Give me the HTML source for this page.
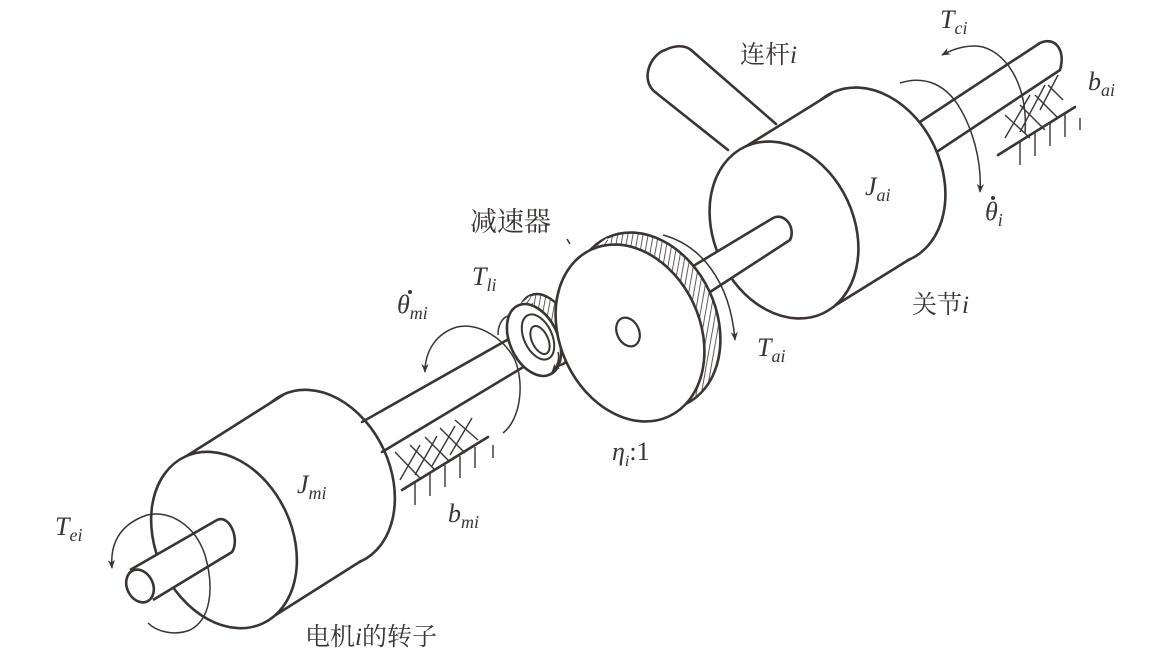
<!DOCTYPE html>
<html><head><meta charset="utf-8"><style>
html,body{margin:0;padding:0;background:#fff}
svg{display:block}
.s{fill:none;stroke:#3a3433;stroke-width:2.6;stroke-linecap:round;stroke-linejoin:round}
.w{fill:#fff;stroke:#3a3433;stroke-width:2.6}
.t{stroke:#3a3433;stroke-width:1.4;fill:none}
.a{fill:none;stroke:#3a3433;stroke-width:1.5}
.lab{font-family:"Liberation Serif",serif;font-style:italic;fill:#3a3433}
.cn{font-family:"Liberation Serif","Noto Serif CJK SC",serif;fill:#3a3433}
</style></head><body>
<svg width="1151" height="672" viewBox="0 0 1151 672" xmlns="http://www.w3.org/2000/svg">
<defs>
<pattern id="h" width="5" height="5" patternUnits="userSpaceOnUse" patternTransform="rotate(35)">
<rect width="5" height="5" fill="#fff"/><line x1="0" y1="0" x2="0" y2="5" stroke="#3a3433" stroke-width="1.6"/>
</pattern>
<marker id="ar" viewBox="0 0 10 10" refX="9" refY="5" markerWidth="9" markerHeight="9" orient="auto-start-reverse" markerUnits="userSpaceOnUse">
<path d="M0,1 L10,5 L0,9 L3,5 Z" fill="#3a3433"/>
</marker>
</defs>

<!-- link -->
<path d="M655,92 L728,150 M691,50 L776,124" class="s"/>
<path d="M655,92 C640,80 650,55 665,50 C675,45 685,45 691,50" class="s"/>

<!-- right shaft -->
<path d="M900,135 L1040,43 C1055,36 1066,50 1060,70 L920,163" class="w" style="stroke-linejoin:round"/>

<!-- joint cylinder -->
<ellipse cx="871" cy="176" rx="70" ry="92" transform="rotate(-25 871 176)" class="w"/>
<polygon points="745,147 832,93 910,259 823,313" fill="#fff"/>
<line x1="745" y1="147" x2="832" y2="93" class="s"/>
<line x1="823" y1="313" x2="910" y2="259" class="s"/>
<ellipse cx="784" cy="230" rx="70" ry="92" transform="rotate(-25 784 230)" class="w"/>

<!-- shaft gear->joint -->
<path d="M670,280 L773,218 C785,212 796,228 790,240 L690,305" class="w"/>

<!-- b_ai damper -->
<line x1="998" y1="155" x2="1075" y2="107" class="s"/>
<g class="t">
<line x1="1020" y1="141" x2="1020" y2="165"/><line x1="1035" y1="132" x2="1035" y2="156"/>
<line x1="1050" y1="122" x2="1050" y2="146"/><line x1="1065" y1="113" x2="1065" y2="137"/>
<line x1="1080" y1="118" x2="1080" y2="130"/>
<line x1="1005" y1="115" x2="1030" y2="138"/><line x1="1020" y1="105" x2="1045" y2="130"/>
<line x1="1035" y1="95" x2="1058" y2="118"/><line x1="1048" y1="85" x2="1063" y2="100"/>
<line x1="1005" y1="138" x2="1030" y2="95"/><line x1="1020" y1="132" x2="1045" y2="85"/>
<line x1="1040" y1="110" x2="1058" y2="75"/>
</g>

<!-- motor cylinder -->
<ellipse cx="322" cy="478" rx="68" ry="92" transform="rotate(-25 322 478)" class="w"/>
<polygon points="185,457 283,395 361,561 263,623" fill="#fff"/>
<line x1="185" y1="457" x2="283" y2="395" class="s"/>
<line x1="263" y1="623" x2="361" y2="561" class="s"/>
<ellipse cx="224" cy="540" rx="68" ry="92" transform="rotate(-25 224 540)" class="w"/>

<!-- motor rear shaft -->
<line x1="362" y1="422" x2="530" y2="327" class="s"/>
<line x1="382" y1="452" x2="540" y2="357" class="s"/>

<!-- b_mi damper -->
<line x1="402" y1="490" x2="488" y2="437" class="s"/>
<g class="t">
<line x1="415" y1="483" x2="415" y2="505"/><line x1="430" y1="474" x2="430" y2="496"/>
<line x1="445" y1="465" x2="445" y2="487"/><line x1="460" y1="456" x2="460" y2="478"/>
<line x1="475" y1="447" x2="475" y2="468"/><line x1="493" y1="445" x2="493" y2="458"/>
<line x1="395" y1="452" x2="420" y2="478"/><line x1="410" y1="445" x2="435" y2="470"/>
<line x1="425" y1="437" x2="450" y2="462"/><line x1="440" y1="428" x2="465" y2="453"/>
<line x1="455" y1="420" x2="478" y2="440"/>
<line x1="400" y1="480" x2="420" y2="445"/><line x1="415" y1="475" x2="437" y2="436"/>
<line x1="432" y1="466" x2="455" y2="426"/><line x1="450" y1="455" x2="472" y2="418"/>
</g>

<!-- collar -->
<ellipse cx="546" cy="330" rx="24" ry="38" transform="rotate(-25 546 330)" fill="url(#h)" stroke="#3a3433" stroke-width="2.4"/>
<polygon points="518,306 530,296 561,364 549,374" fill="url(#h)"/>
<ellipse cx="534" cy="340" rx="24" ry="38" transform="rotate(-25 534 340)" class="w"/>
<ellipse cx="538" cy="337" rx="14" ry="24" transform="rotate(-25 538 337)" class="w" style="stroke-width:2"/>
<ellipse cx="540" cy="340" rx="8" ry="15" transform="rotate(-25 540 340)" class="w" style="stroke-width:2"/>

<!-- gear -->
<ellipse cx="646" cy="321" rx="70" ry="92" transform="rotate(-25 646 321)" fill="url(#h)" stroke="#3a3433" stroke-width="2.6"/>
<polygon points="591,250 607,238 685,404 669,416" fill="url(#h)"/>
<ellipse cx="630" cy="333" rx="70" ry="92" transform="rotate(-25 630 333)" class="w"/>
<ellipse cx="628" cy="332" rx="11" ry="15" transform="rotate(-25 628 332)" class="w" style="stroke-width:2.2"/>

<!-- motor front stub -->
<path d="M130,570 L217,520 C230,514 240,540 232,552 L153,600" class="w"/>
<ellipse cx="140" cy="586" rx="13" ry="17" transform="rotate(-25 140 586)" class="w"/>

<!-- arrows -->
<path d="M1025,133 C1028,90 1010,55 983,47 C970,44 955,48 942,55" class="a" marker-end="url(#ar)"/>
<path d="M900,83 C925,75 945,85 958,105 C972,127 982,160 980,192" class="a" marker-end="url(#ar)"/>
<path d="M663,235 C700,245 730,280 735,340" class="a" marker-end="url(#ar)"/>
<path d="M425,372 C425,350 437,333 457,327 C480,322 505,340 515,360 C525,385 520,420 503,433" class="a" marker-start="url(#ar)"/>
<path d="M498,335 C498,325 502,318 508,316" class="a"/>
<path d="M558,352 C560,360 557,366 552,372" class="a" marker-end="url(#ar)"/>
<path d="M112,568 C110,545 118,525 147,515 C170,510 195,525 205,555 C215,590 210,620 190,630 C175,636 157,632 148,623" class="a" marker-start="url(#ar)"/>
<line x1="567" y1="239" x2="570" y2="244" class="a"/>

<!-- labels -->
<text x="55" y="535" class="lab" font-size="26">T<tspan font-size="18" dy="6">ei</tspan></text>
<text x="297" y="493" class="lab" font-size="26">J<tspan font-size="18" dy="6">mi</tspan></text>
<text x="448" y="522" class="lab" font-size="26">b<tspan font-size="18" dy="6">mi</tspan></text>
<text x="305" y="645" class="cn" font-size="25">电机<tspan font-style="italic">i</tspan>的转子</text>
<text x="397" y="313" class="lab" font-size="26">θ<tspan font-size="18" dy="6">mi</tspan></text>
<circle cx="410" cy="292" r="2" fill="#3a3433"/>
<text x="472" y="285" class="lab" font-size="26">T<tspan font-size="18" dy="6">li</tspan></text>
<text x="470" y="231" class="cn" font-size="27">减速器</text>
<text x="612" y="460" class="lab" font-size="26">η<tspan font-size="16" dy="6">i</tspan><tspan dy="-6" font-style="normal">:1</tspan></text>
<text x="757" y="356" class="lab" font-size="26">T<tspan font-size="18" dy="6">ai</tspan></text>
<text x="912" y="313" class="cn" font-size="25">关节<tspan font-style="italic">i</tspan></text>
<text x="865" y="195" class="lab" font-size="26">J<tspan font-size="18" dy="6">ai</tspan></text>
<text x="985" y="220" class="lab" font-size="26">θ<tspan font-size="18" dy="6">i</tspan></text>
<circle cx="993" cy="198" r="2" fill="#3a3433"/>
<text x="940" y="28" class="lab" font-size="26">T<tspan font-size="18" dy="6">ci</tspan></text>
<text x="1088" y="90" class="lab" font-size="26">b<tspan font-size="18" dy="6">ai</tspan></text>
<text x="740" y="63" class="cn" font-size="25">连杆<tspan font-style="italic">i</tspan></text>
</svg>
</body></html>
